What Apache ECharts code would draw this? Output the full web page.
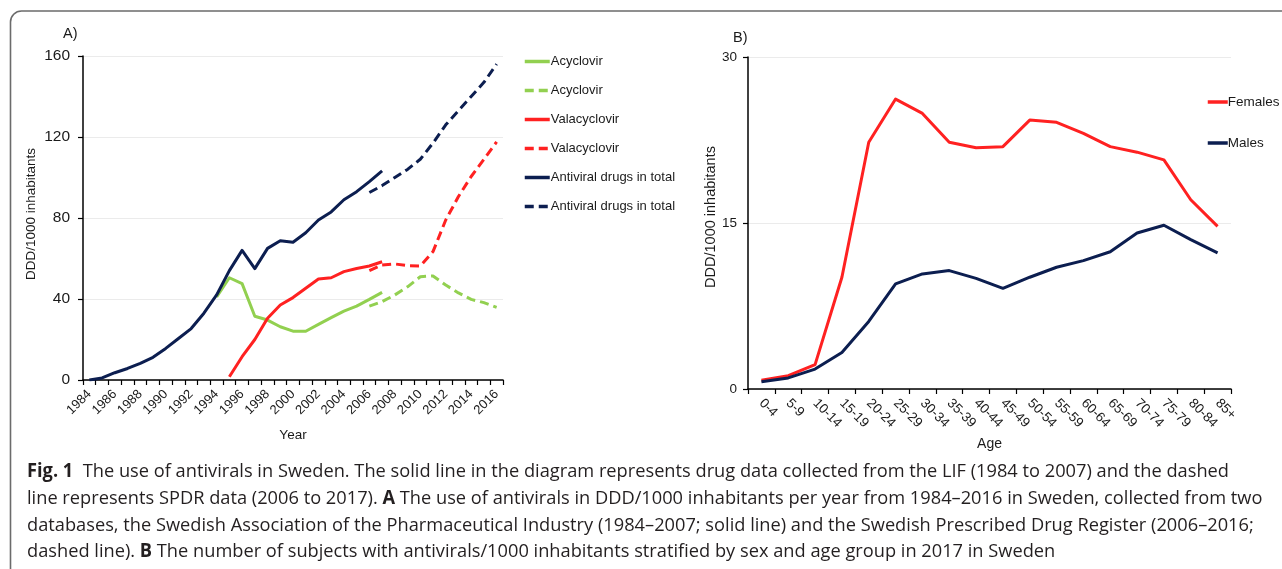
<!DOCTYPE html>
<html>
<head>
<meta charset="utf-8">
<script src="https://cdn.jsdelivr.net/npm/echarts@6/dist/echarts.min.js"></script>
<style>
html,body{margin:0;padding:0;background:#fff;}
#chart{width:1282px;height:569px;}
</style>
</head>
<body>
<div id="chart"></div>
<script>
// ---------- Data ----------
const years = ['1984','1985','1986','1987','1988','1989','1990','1991','1992','1993','1994','1995','1996','1997','1998','1999','2000','2001','2002','2003','2004','2005','2006','2007','2008','2009','2010','2011','2012','2013','2014','2015','2016'];
// LIF data (solid), 1984-2007
const acyclovirSolid = [null,null,null,null,null,null,null,null,null,null,41,50.5,47.6,31.5,29.6,26.3,24.1,24.1,27.5,30.8,34,36.5,39.8,43.3];
const valacyclovirSolid = [null,null,null,null,null,null,null,null,null,null,null,1.6,11.5,20,30.5,37,40.7,45.3,49.9,50.5,53.5,55.1,56.3,58.4];
const totalSolid = [0,1,3.6,5.7,8.2,11.2,15.6,20.5,25.4,33,42,54,64,55,65,68.8,68,72.7,79,83,89,93,98,103.3];
// SPDR data (dashed), 2006-2016
const dashStartIndex = 22; // 2006
const acyclovirDashed = [36.5,38.7,42,46,51,51.4,46.9,43,39.8,38.2,35.9];
const valacyclovirDashed = [54,56.8,57.3,56.5,56.3,63.4,79,90.6,100.5,109,117.6];
const totalDashed = [92.6,96,100,104,109,117,126,133,140,147,156];

const ageGroups = ['0-4','5-9','10-14','15-19','20-24','25-29','30-34','35-39','40-44','45-49','50-54','55-59','60-64','65-69','70-74','75-79','80-84','85+'];
const females = [0.8,1.2,2.2,10.1,22.3,26.2,24.9,22.3,21.8,21.9,24.3,24.1,23.1,21.9,21.4,20.7,17.1,14.7];
const males = [0.66,1.0,1.8,3.3,6.1,9.5,10.4,10.7,10.0,9.1,10.1,11.0,11.6,12.4,14.1,14.8,13.5,12.3];

const yTicksA = [0,40,80,120,160];
const yTicksB = [0,15,30];

const captionLines = [
  [['Fig. 1', true], ['  The use of antivirals in Sweden. The solid line in the diagram represents drug data collected from the LIF (1984 to 2007) and the dashed', false]],
  [['line represents SPDR data (2006 to 2017). ', false], ['A', true], [' The use of antivirals in DDD/1000 inhabitants per year from 1984\u20132016 in Sweden, collected from two', false]],
  [['databases, the Swedish Association of the Pharmaceutical Industry (1984\u20132007; solid line) and the Swedish Prescribed Drug Register (2006\u20132016;', false]],
  [['dashed line). ', false], ['B', true], [' The number of subjects with antivirals/1000 inhabitants stratified by sex and age group in 2017 in Sweden', false]]
];

// ---------- Helpers ----------
function padDashed(arr) {
  const out = new Array(years.length).fill(null);
  arr.forEach((v, i) => { out[dashStartIndex + i] = v; });
  return out;
}
function padSolid(arr) {
  const out = new Array(years.length).fill(null);
  arr.forEach((v, i) => { out[i] = v; });
  return out;
}

const GREEN = '#92d050', RED = '#ff2121', NAVY = '#0c1e50';
const FONT = "'Liberation Sans', Arial, sans-serif";
const CAP_FONT = "'Open Sans', 'Noto Sans', sans-serif";
const CAP_SIZE = 19;

// caption width scaling
const cv = document.createElement('canvas').getContext('2d');
function lineWidth(line) {
  let w = 0;
  line.forEach(([t, b]) => { cv.font = (b ? 'bold ' : '') + CAP_SIZE + 'px ' + CAP_FONT; w += cv.measureText(t).width; });
  return w;
}
const capScale = (1229 - 27) / lineWidth(captionLines[0]);
const capY = [472, 499, 525.5, 552];

const captionGraphics = captionLines.map((line, li) => ({
  type: 'text',
  x: 27, y: capY[li],
  scaleX: capScale,
  style: {
    text: line.map(([t, b]) => b ? '{b|' + t + '}' : '{n|' + t + '}').join(''),
    rich: {
      b: { fontFamily: CAP_FONT, fontSize: CAP_SIZE, fontWeight: 'bold', fill: '#231f20' },
      n: { fontFamily: CAP_FONT, fontSize: CAP_SIZE, fill: '#231f20' }
    },
    verticalAlign: 'middle'
  }
}));

function lineSeries(name, data, color, dashed, xi, z) {
  return {
    type: 'line', name: name, xAxisIndex: xi, yAxisIndex: xi,
    data: data, symbol: 'none', showSymbol: false, connectNulls: false,
    z: z,
    lineStyle: { color: color, width: 3, type: dashed ? [9, 5] : 'solid', cap: 'butt', join: 'round' },
    itemStyle: { color: color },
    emphasis: { disabled: true },
    animation: false
  };
}

const axisLabelStyle = { color: '#1a1a1a', fontFamily: FONT };

const option = {
  animation: false,
  backgroundColor: '#ffffff',
  textStyle: { fontFamily: FONT },
  grid: [
    { left: 83, top: 56, width: 420, height: 324, containLabel: false },
    { left: 748, top: 57, width: 483, height: 332, containLabel: false }
  ],
  xAxis: [
    {
      type: 'category', gridIndex: 0, data: years, boundaryGap: true,
      name: 'Year', nameLocation: 'middle', nameGap: 48,
      nameTextStyle: { color: '#1a1a1a', fontSize: 13.5, fontFamily: FONT },
      axisLine: { lineStyle: { color: '#000', width: 1.5 } },
      axisTick: { show: true, interval: 0, length: 5, lineStyle: { color: '#000', width: 1.2 } },
      axisLabel: Object.assign({ interval: 1, rotate: 45, fontSize: 13, margin: 12 }, axisLabelStyle),
      splitLine: { show: false }
    },
    {
      type: 'category', gridIndex: 1, data: ageGroups, boundaryGap: true,
      name: 'Age', nameLocation: 'middle', nameGap: 48,
      nameTextStyle: { color: '#1a1a1a', fontSize: 14, fontFamily: FONT },
      axisLine: { lineStyle: { color: '#000', width: 1.5 } },
      axisTick: { show: true, interval: 0, length: 5, lineStyle: { color: '#000', width: 1.2 } },
      axisLabel: Object.assign({ interval: 0, rotate: -45, fontSize: 13.5, margin: 12 }, axisLabelStyle),
      splitLine: { show: false }
    }
  ],
  yAxis: [
    {
      type: 'value', gridIndex: 0, min: yTicksA[0], max: yTicksA[yTicksA.length - 1], interval: yTicksA[1] - yTicksA[0],
      name: 'DDD/1000 inhabitants', nameLocation: 'middle', nameGap: 45, nameRotate: 90,
      nameTextStyle: { color: '#1a1a1a', fontSize: 13.5, fontFamily: FONT, padding: [0, 0, 0, 8] },
      axisLine: { show: true, lineStyle: { color: '#000', width: 1.5 } },
      axisTick: { show: true, length: 5, lineStyle: { color: '#000', width: 1.2 } },
      axisLabel: Object.assign({ fontSize: 15.5, margin: 13 }, axisLabelStyle),
      splitLine: { show: true, lineStyle: { color: '#ebebeb', width: 1 } }
    },
    {
      type: 'value', gridIndex: 1, min: yTicksB[0], max: yTicksB[yTicksB.length - 1], interval: yTicksB[1] - yTicksB[0],
      name: 'DDD/1000 inhabitants', nameLocation: 'middle', nameGap: 30, nameRotate: 90,
      nameTextStyle: { color: '#1a1a1a', fontSize: 14.5, fontFamily: FONT, padding: [0, 0, 0, 12] },
      axisLine: { show: true, lineStyle: { color: '#000', width: 1.5 } },
      axisTick: { show: true, length: 5, lineStyle: { color: '#000', width: 1.2 } },
      axisLabel: Object.assign({ fontSize: 13.5, margin: 11 }, axisLabelStyle),
      splitLine: { show: true, lineStyle: { color: '#ebebeb', width: 1 } }
    }
  ],
  legend: [
    {
      orient: 'vertical', left: 518, top: 50, itemWidth: 25, itemHeight: 14, itemGap: 16,
      textStyle: { color: '#1a1a1a', fontSize: 13, fontFamily: FONT, padding: [0, 0, 0, -4] },
      itemStyle: { opacity: 0 },
      lineStyle: { width: 3.5 },
      data: ['Acyclovir', 'Acyclovir\u200b', 'Valacyclovir', 'Valacyclovir\u200b', 'Antiviral drugs in total', 'Antiviral drugs in total\u200b'],
      selectedMode: false
    },
    {
      orient: 'vertical', left: 1201, top: 90, itemWidth: 20, itemHeight: 14, itemGap: 27,
      textStyle: { color: '#1a1a1a', fontSize: 13.5, fontFamily: FONT, padding: [0, 0, 0, -5] },
      itemStyle: { opacity: 0 },
      lineStyle: { width: 3.5 },
      data: ['Females', 'Males'],
      selectedMode: false
    }
  ],
  graphic: [
    { type: 'rect', shape: { x: 10.5, y: 11, width: 1300, height: 600, r: 11 }, style: { fill: 'none', stroke: '#6b6b6b', lineWidth: 1.6 }, silent: true },
    { type: 'text', x: 63, y: 34, style: { text: 'A)', fontSize: 14.5, fontFamily: FONT, fill: '#1a1a1a', verticalAlign: 'middle' } },
    { type: 'text', x: 733, y: 38, style: { text: 'B)', fontSize: 14.5, fontFamily: FONT, fill: '#1a1a1a', verticalAlign: 'middle' } }
  ].concat(captionGraphics),
  series: [
    lineSeries('Acyclovir', padSolid(acyclovirSolid), GREEN, false, 0, 2),
    lineSeries('Acyclovir\u200b', padDashed(acyclovirDashed), GREEN, true, 0, 2),
    lineSeries('Valacyclovir', padSolid(valacyclovirSolid), RED, false, 0, 3),
    lineSeries('Valacyclovir\u200b', padDashed(valacyclovirDashed), RED, true, 0, 3),
    lineSeries('Antiviral drugs in total', padSolid(totalSolid), NAVY, false, 0, 4),
    lineSeries('Antiviral drugs in total\u200b', padDashed(totalDashed), NAVY, true, 0, 4),
    lineSeries('Females', females, RED, false, 1, 3),
    lineSeries('Males', males, NAVY, false, 1, 4)
  ]
};

const chart = echarts.init(document.getElementById('chart'), null, { renderer: 'canvas' });
chart.setOption(option);
</script>
</body>
</html>
